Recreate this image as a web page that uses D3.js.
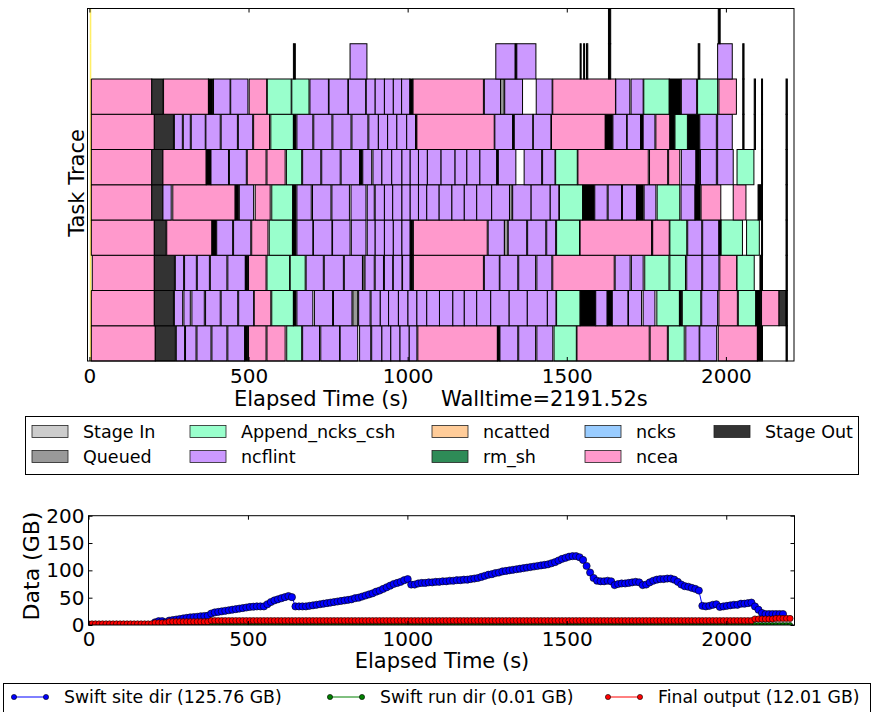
<!DOCTYPE html>
<html>
<head>
<meta charset="utf-8">
<script src="https://cdn.jsdelivr.net/npm/d3@7"></script>
<style>
  body { margin: 0; background: #fff; }
  text { font-family: "DejaVu Sans", sans-serif; fill: #000; }
</style>
</head>
<body>
<svg width="874" height="712"></svg>
<script>
// legend categories of the task trace, in legend order (column by column)
const taskTypes = ['Stage In', 'Queued', 'Append_ncks_csh', 'ncflint', 'ncatted', 'rm_sh', 'ncks', 'ncea', 'Stage Out'];
const typeColors = ['#cccccc', '#999999', '#99ffcc', '#cc99ff', '#ffcc99', '#2e8b57', '#99ccff', '#ff99cc', '#333333'];

// task codes used in the rows below; K = bursts of very short tasks (drawn black)
const codeNames = { E: 'ncea', F: 'ncflint', A: 'Append_ncks_csh', S: 'Stage Out', Q: 'Queued', T: 'ncatted' };

// one array per trace row, row0 at the bottom: [start s, end s, code]
const row0 = [[1,6,'T'],[6,207,'E'],[207,270,'S'],[273,299,'F'],[302,335,'F'],[338,382,'F'],[385,432,'F'],[435,488,'F'],[488,498,'K'],[500,555,'E'],[558,615,'E'],[620,667,'A'],[670,723,'F'],[727,786,'F'],[788,843,'F'],[849,884,'F'],[887,919,'F'],[919,947,'F'],[947,976,'F'],[976,1005,'F'],[1005,1029,'F'],[1032,1282,'E'],[1282,1290,'K'],[1290,1346,'F'],[1349,1402,'F'],[1406,1456,'F'],[1460,1530,'A'],[1532,1759,'E'],[1762,1816,'E'],[1819,1869,'A'],[1874,1916,'F'],[1918,1971,'F'],[1976,2099,'E'],[2099,2115,'K'],[2189,2193,'K']];
const row1 = [[1,6,'T'],[6,204,'E'],[204,264,'S'],[267,293,'F'],[297,317,'F'],[322,361,'F'],[365,411,'F'],[414,466,'F'],[469,516,'F'],[518,570,'E'],[573,641,'A'],[641,649,'K'],[652,702,'F'],[707,764,'F'],[767,825,'F'],[828,843,'Q'],[846,882,'F'],[885,914,'F'],[914,940,'F'],[940,971,'F'],[971,1001,'F'],[1001,1029,'F'],[1029,1060,'F'],[1060,1100,'F'],[1100,1142,'F'],[1142,1178,'F'],[1178,1217,'F'],[1217,1261,'F'],[1261,1319,'F'],[1319,1376,'F'],[1376,1439,'F'],[1439,1466,'F'],[1468,1542,'A'],[1542,1591,'K'],[1591,1627,'F'],[1627,1643,'K'],[1643,1692,'F'],[1694,1735,'F'],[1740,1777,'F'],[1783,1854,'A'],[1854,1861,'K'],[1863,1921,'A'],[1924,1974,'F'],[1978,2036,'E'],[2039,2094,'A'],[2094,2110,'K'],[2112,2167,'E'],[2167,2189,'S'],[2189,2193,'K']];
const row2 = [[1,6,'T'],[9,204,'E'],[204,267,'S'],[270,296,'F'],[299,336,'F'],[339,377,'F'],[380,432,'F'],[435,490,'F'],[490,498,'K'],[500,555,'E'],[558,629,'A'],[631,678,'A'],[681,735,'F'],[738,798,'F'],[801,858,'F'],[858,863,'Q'],[866,895,'F'],[898,924,'F'],[927,953,'F'],[955,982,'F'],[984,1008,'F'],[1008,1016,'K'],[1018,1238,'E'],[1241,1288,'F'],[1290,1346,'F'],[1349,1402,'F'],[1406,1453,'F'],[1456,1649,'E'],[1652,1699,'F'],[1703,1740,'F'],[1745,1821,'A'],[1824,1873,'A'],[1877,1924,'F'],[1927,1978,'F'],[1981,2034,'E'],[2035,2089,'A'],[2107,2115,'K'],[2189,2193,'K']];
const row3 = [[1,6,'T'],[6,204,'E'],[204,241,'S'],[243,385,'E'],[385,398,'K'],[400,450,'F'],[453,507,'F'],[510,561,'E'],[565,638,'A'],[638,649,'K'],[652,702,'F'],[704,762,'F'],[764,819,'F'],[823,869,'F'],[873,898,'F'],[898,927,'F'],[927,955,'F'],[955,982,'F'],[982,1008,'F'],[1008,1016,'K'],[1018,1250,'E'],[1253,1304,'F'],[1304,1315,'Q'],[1316,1374,'F'],[1377,1434,'F'],[1437,1465,'F'],[1468,1540,'A'],[1542,1767,'E'],[1767,1770,'K'],[1770,1822,'E'],[1824,1877,'A'],[1880,1924,'F'],[1927,1978,'F'],[1978,1985,'K'],[1985,2052,'A'],[2065,2105,'A'],[2112,2115,'K'],[2189,2193,'K']];
const row4 = [[1,6,'T'],[6,196,'E'],[196,231,'S'],[231,257,'F'],[262,458,'E'],[458,468,'K'],[471,516,'F'],[521,568,'E'],[573,639,'A'],[639,649,'K'],[652,697,'F'],[701,759,'F'],[762,817,'F'],[822,869,'F'],[873,895,'F'],[898,927,'F'],[927,953,'F'],[953,982,'F'],[982,1008,'F'],[1008,1034,'F'],[1034,1060,'F'],[1060,1099,'F'],[1099,1139,'F'],[1139,1178,'F'],[1178,1217,'F'],[1217,1264,'F'],[1264,1320,'F'],[1320,1328,'Q'],[1330,1388,'F'],[1388,1448,'F'],[1448,1475,'F'],[1477,1550,'A'],[1550,1586,'K'],[1588,1627,'F'],[1630,1672,'F'],[1675,1719,'F'],[1719,1740,'K'],[1743,1780,'F'],[1784,1855,'A'],[1859,1903,'F'],[1903,1919,'K'],[1922,1984,'E'],[2023,2063,'E'],[2101,2115,'K'],[2189,2193,'K']];
const row5 = [[1,6,'T'],[6,196,'E'],[196,231,'S'],[231,367,'E'],[367,382,'K'],[382,437,'F'],[440,493,'F'],[496,555,'E'],[558,615,'E'],[619,667,'A'],[670,727,'F'],[730,788,'F'],[791,849,'F'],[849,857,'K'],[859,887,'F'],[891,919,'F'],[919,950,'F'],[950,982,'F'],[982,1008,'F'],[1008,1034,'F'],[1034,1062,'F'],[1062,1105,'F'],[1105,1149,'F'],[1149,1186,'F'],[1186,1227,'F'],[1227,1280,'F'],[1280,1284,'K'],[1285,1340,'F'],[1366,1421,'F'],[1424,1463,'F'],[1465,1533,'A'],[1535,1756,'E'],[1760,1817,'E'],[1820,1855,'E'],[1860,1906,'F'],[1906,1918,'K'],[1920,1970,'F'],[1974,2023,'F'],[2035,2088,'A'],[2112,2115,'K'],[2189,2193,'K']];
const row6 = [[1,6,'T'],[6,204,'E'],[204,264,'S'],[267,292,'F'],[295,317,'F'],[320,364,'F'],[366,411,'F'],[414,465,'F'],[468,513,'F'],[516,566,'E'],[570,641,'A'],[641,649,'K'],[652,702,'F'],[705,762,'F'],[765,822,'F'],[825,875,'F'],[878,908,'F'],[908,937,'F'],[937,966,'F'],[966,997,'F'],[997,1025,'F'],[1025,1029,'K'],[1029,1272,'E'],[1274,1330,'F'],[1330,1335,'K'],[1335,1393,'F'],[1395,1450,'F'],[1452,1621,'E'],[1621,1643,'K'],[1645,1688,'F'],[1690,1732,'F'],[1732,1740,'K'],[1740,1777,'F'],[1780,1824,'E'],[1824,1838,'K'],[1840,1879,'A'],[1881,1916,'K'],[1918,1970,'F'],[1974,2020,'F'],[2053,2057,'K'],[2089,2093,'K'],[2112,2115,'K'],[2189,2193,'K']];
const row7 = [[1,6,'T'],[6,196,'E'],[196,231,'S'],[233,374,'E'],[374,388,'K'],[390,442,'F'],[444,498,'F'],[502,557,'E'],[559,634,'A'],[636,690,'A'],[693,751,'F'],[753,812,'F'],[814,868,'F'],[870,898,'F'],[898,927,'F'],[927,955,'F'],[955,981,'F'],[981,1007,'F'],[1007,1016,'K'],[1017,1238,'E'],[1241,1292,'F'],[1292,1303,'Q'],[1305,1361,'F'],[1404,1454,'F'],[1456,1653,'E'],[1654,1698,'F'],[1702,1740,'F'],[1742,1822,'A'],[1822,1858,'K'],[1860,1908,'F'],[1911,1974,'A'],[1978,2033,'E'],[2053,2057,'K'],[2089,2093,'K'],[2112,2115,'K'],[2189,2193,'K']];
const row8 = [[1,6,'T'],[641,647,'K'],[819,872,'F'],[1277,1338,'F'],[1338,1343,'K'],[1343,1403,'F'],[1542,1545,'K'],[1553,1556,'K'],[1562,1566,'K'],[1631,1638,'K'],[1913,1918,'K'],[1974,2020,'F'],[2053,2057,'K']];
const row9 = [[1,6,'T'],[1631,1638,'K'],[1976,1982,'K']];
const traceRows = [row0, row1, row2, row3, row4, row5, row6, row7, row8, row9];

const xTicks = [0, 500, 1000, 1500, 2000];
const yDataTicks = [0, 50, 100, 150, 200];
const walltime = 2191.52;

// disk usage samples (s, GB)
const sampleTimes = [0,11,22,33,44,55,66,77,88,99,110,121,132,143,154,165,176,187,198,209,
  220,231,242,253,264,275,286,297,308,319,330,341,352,363,374,385,396,407,418,429,
  440,451,462,473,484,495,506,517,528,539,550,561,572,583,594,605,616,627,638,649,
  660,671,682,693,704,715,726,737,748,759,770,781,792,803,814,825,836,847,858,869,
  880,891,902,913,924,935,946,957,968,979,990,1001,1012,1023,1034,1045,1056,1067,1078,1089,
  1100,1111,1122,1133,1144,1155,1166,1177,1188,1199,1210,1221,1232,1243,1254,1265,1276,1287,1298,1309,
  1320,1331,1342,1353,1364,1375,1386,1397,1408,1419,1430,1441,1452,1463,1474,1485,1496,1507,1518,1529,
  1540,1551,1562,1573,1584,1595,1606,1617,1628,1639,1650,1661,1672,1683,1694,1705,1716,1727,1738,1749,
  1760,1771,1782,1793,1804,1815,1826,1837,1848,1859,1870,1881,1892,1903,1914,1925,1936,1947,1958,1969,
  1980,1991,2002,2013,2024,2035,2046,2057,2068,2079,2090,2101,2112,2123,2134,2145,2156,2167,2178,2189,
  2200];
const siteDir = [0,0,0,0,0,0,0,0,0,0,
  0,0,0,0,0,0,0,0,0,5,
  7,7,5,8,9,10,11,12,13,14,
  14.5,15,16,16.5,17,21,23,24,25,26,
  27,28,29,30,31,32,33,33.5,34,34,
  34,38,42,45,47,49,51,53,51,34,
  34,34,34,35,36,37,38,39,40,41,
  42,43,44,45,46,47,49,50,52,54,
  56,58,61,63,66,69,72,75,77,79,
  82,84,74,74,76,77,77,78,78,79,
  79,80,80,81,81,82,82,83,83,84,
  85,86,88,90,92,93,95,96,98,99,
  100,101,102,103,104,105,106,107,108,109,
  110,111,113,115,118,121,123,125,126,126,
  124,119,108,96,86,81,80,80,81,80,
  73,75,76,76,77,78,79,78,73,74,
  78,81,83,84,84,85,85,83,79,74,
  71,70,68,66,63,35,34,35,37,38,
  33,34,35,36,37,37,39,39,40,41,
  34,28,22,20,20,20,20,20,20];
const runDir = [0,0,0,0,0,0,0,0,0,0,0,0,0,0,0,0,0,0,0,0,
  0,0,0,0,0,0,0,0,0,0,0,0,0,0,0,0,0,0,0,0,
  0,0,0,0,0,0,0,0,0,0,0,0,0,0,0,0,0,0,0,0,
  0,0,0,0,0,0,0,0,0,0,0,0,0,0,0,0,0,0,0,0,
  0,0,0,0,0,0,0,0,0,0,0,0,0,0,0,0,0,0,0,0,
  0,0,0,0,0,0,0,0,0,0,0,0,0,0,0,0,0,0,0,0,
  0,0,0,0,0,0,0,0,0,0,0,0,0,0,0,0,0,0,0,0,
  0,0,0,0,0,0,0,0,0,0,0,0,0,0,0,0,0,0,0,0,
  0,0,0,0,0,0,0,0,0,0,0,0,0,0,0,0,0,0,0,0,
  0,0,0,0,0,0,0,0,0,0,0,0,0,0,0,0,0,0,0,0,
  0.01];
const finalOutput = [2,2,2,2,2,2,2,2,2,2,2,2,2,2,2,2,2,2,2,4,
  4,4,4,6,6,6,6,6,6,6,6,6,6,6,6,8,8,8,8,8,
  8,8,8,8,8,8,8,8,8,8,8,8,8,8,8,8,8,8,8,8,
  8,8,8,8,8,8,8,8,8,8,8,8,8,8,8,8,8,8,8,8,
  8,8,8,8,8,8,8,8,8,8,8,8,8,8,8,8,8,8,8,8,
  8,8,8,8,8,8,8,8,8,8,8,8,8,8,8,8,8,8,8,8,
  8,8,8,8,8,8,8,8,8,8,8,8,8,8,8,8,8,8,8,8,
  8,8,8,8,8,8,8,8,8,8,8,8,8,8,8,8,8,8,8,8,
  8,8,8,8,8,8,8,8,8,8,8,8,8,8,8,8,8,8,8,8,
  8,8,8,8,8,8,8,8,8,8,11,11,11,11,11,11,12,12,12,12,
  12];
const seriesNames = ['Swift site dir (125.76 GB)', 'Swift run dir (0.01 GB)', 'Final output (12.01 GB)'];
const seriesColors = ['#0000ff', '#008000', '#ff0000'];

const svg = d3.select('svg');
const colorOf = code => code === 'K' ? '#000' : code === 'T' ? '#ffee66' : typeColors[taskTypes.indexOf(codeNames[code])];

// ---------- task trace ----------
const xTask = d3.scaleLinear().domain([-6, 2214]).range([87.5, 794]);
const yTask = d3.scaleLinear().domain([0, 10]).range([361, 8.5]);

const trace = svg.append('g');
traceRows.forEach((row, r) => {
  trace.append('g').selectAll('rect')
    .data(row)
    .enter()
    .append('rect')
    .attr('x', d => xTask(d[0]))
    .attr('y', yTask(r + 1))
    .attr('width', d => Math.max(xTask(d[1]) - xTask(d[0]), 1))
    .attr('height', yTask(r) - yTask(r + 1))
    .attr('fill', d => colorOf(d[2]))
    .attr('stroke', d => d[2] === 'T' ? 'none' : '#000')
    .attr('stroke-width', 1);
});

svg.append('rect')
  .attr('x', 87.5).attr('y', 8.5).attr('width', 794 - 87.5).attr('height', 361 - 8.5)
  .attr('fill', 'none').attr('stroke', '#000');

function styleAxis(g, size) {
  g.select('.domain').remove();
  g.selectAll('line').attr('stroke', '#000');
  g.selectAll('text').attr('font-size', size).attr('font-family', 'DejaVu Sans').attr('fill', '#000');
}

svg.append('g').attr('transform', 'translate(0,361)')
  .call(d3.axisBottom(xTask).tickValues(xTicks).tickSize(-4).tickPadding(8).tickFormat(d3.format('d')))
  .call(g => styleAxis(g, 20));
svg.append('g').attr('transform', 'translate(0,8.5)')
  .call(d3.axisTop(xTask).tickValues(xTicks).tickSize(-4).tickFormat(''))
  .call(g => styleAxis(g, 20));

svg.append('text').attr('x', 234).attr('y', 406).attr('font-size', 21).text('Elapsed Time (s)');
svg.append('text').attr('x', 441).attr('y', 406).attr('font-size', 21).text('Walltime=' + walltime + 's');
svg.append('text')
  .attr('transform', 'translate(84,183) rotate(-90)')
  .attr('text-anchor', 'middle').attr('font-size', 21).text('Task Trace');

// ---------- task legend ----------
const leg = svg.append('g');
leg.append('rect').attr('x', 25.5).attr('y', 416.5).attr('width', 833).attr('height', 58)
  .attr('fill', '#fff').attr('stroke', '#000');
const legCols = [32, 190, 432, 585, 714];
taskTypes.forEach((name, i) => {
  const x = legCols[Math.floor(i / 2)];
  const y = i % 2 === 0 ? 431.5 : 456.5;
  leg.append('rect').attr('x', x).attr('y', y - 6).attr('width', 36).attr('height', 12)
    .attr('fill', typeColors[i]).attr('stroke', '#222').attr('stroke-width', 0.8);
  leg.append('text').attr('x', x + 51).attr('y', y + 6).attr('font-size', 17.5).text(name);
});

// ---------- data usage ----------
const xData = d3.scaleLinear().domain([0, 2214]).range([88.5, 794.5]);
const yData = d3.scaleLinear().domain([0, 200]).range([625, 515.7]);

svg.append('clipPath').attr('id', 'plotclip')
  .append('rect').attr('x', 88.5).attr('y', 515.7).attr('width', 706).attr('height', 109.3);

const plot = svg.append('g').attr('clip-path', 'url(#plotclip)');
const seriesValues = [siteDir, runDir, finalOutput];
const radii = [3.6, 2.6, 3.1];
seriesValues.forEach((vals, k) => {
  const pts = vals.map((v, i) => ({ t: sampleTimes[i], v: v }));
  plot.append('path')
    .datum(pts)
    .attr('fill', 'none')
    .attr('stroke', seriesColors[k])
    .attr('stroke-width', 1)
    .attr('d', d3.line().x(d => xData(d.t)).y(d => yData(d.v)));
  plot.append('g').selectAll('circle')
    .data(pts)
    .enter()
    .append('circle')
    .attr('cx', d => xData(d.t))
    .attr('cy', d => yData(d.v))
    .attr('r', radii[k])
    .attr('fill', seriesColors[k])
    .attr('stroke', '#000')
    .attr('stroke-width', 0.6);
});

svg.append('rect')
  .attr('x', 88.5).attr('y', 515.7).attr('width', 706).attr('height', 109.3)
  .attr('fill', 'none').attr('stroke', '#000');

svg.append('g').attr('transform', 'translate(0,625)')
  .call(d3.axisBottom(xData).tickValues(xTicks).tickSize(-4).tickPadding(7).tickFormat(d3.format('d')))
  .call(g => styleAxis(g, 20));
svg.append('g').attr('transform', 'translate(0,515.7)')
  .call(d3.axisTop(xData).tickValues(xTicks).tickSize(-4).tickFormat(''))
  .call(g => styleAxis(g, 20));
svg.append('g').attr('transform', 'translate(88.5,0)')
  .call(d3.axisLeft(yData).tickValues(yDataTicks).tickSize(-4).tickPadding(4))
  .call(g => styleAxis(g, 20));
svg.append('g').attr('transform', 'translate(794.5,0)')
  .call(d3.axisRight(yData).tickValues(yDataTicks).tickSize(-4).tickFormat(''))
  .call(g => styleAxis(g, 20));

svg.append('text').attr('x', 442).attr('y', 668).attr('text-anchor', 'middle')
  .attr('font-size', 21).text('Elapsed Time (s)');
svg.append('text')
  .attr('transform', 'translate(39,566) rotate(-90)')
  .attr('text-anchor', 'middle').attr('font-size', 22).text('Data (GB)');

// ---------- series legend ----------
const leg2 = svg.append('g');
leg2.append('rect').attr('x', 3.5).attr('y', 683.5).attr('width', 867).attr('height', 40)
  .attr('fill', '#fff').attr('stroke', '#000');
const handleX = [12, 328, 606];
seriesNames.forEach((name, k) => {
  const x = handleX[k], y = 697;
  leg2.append('line').attr('x1', x).attr('x2', x + 36).attr('y1', y).attr('y2', y)
    .attr('stroke', seriesColors[k]).attr('stroke-width', 1);
  [x + 2, x + 34].forEach(cx => leg2.append('circle').attr('cx', cx).attr('cy', y).attr('r', 2.6)
    .attr('fill', seriesColors[k]).attr('stroke', '#000').attr('stroke-width', 0.6));
  leg2.append('text').attr('x', x + 52).attr('y', y + 6).attr('font-size', 17.3).text(name);
});
</script>
</body>
</html>
